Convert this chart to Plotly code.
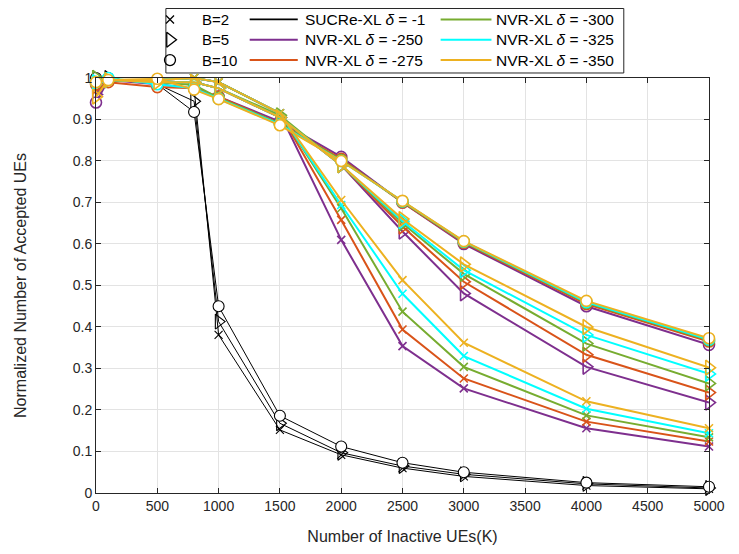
import plotly.graph_objects as go

# ---------------- data ----------------
x_users = [0, 100, 500, 800, 1000, 1500, 2000, 2500, 3000, 4000, 5000]

methods = ["SUCRe-XL", "NVR-XL -250", "NVR-XL -275", "NVR-XL -300", "NVR-XL -325", "NVR-XL -350"]
legend_labels = ["SUCRe-XL <i>δ</i> = -1", "NVR-XL <i>δ</i> = -250", "NVR-XL <i>δ</i> = -275",
                 "NVR-XL <i>δ</i> = -300", "NVR-XL <i>δ</i> = -325", "NVR-XL <i>δ</i> = -350"]
b_labels = ["B=2", "B=5", "B=10"]

# B = 2
sucre_b2 = [1.0, 1.0, 0.985, 0.975, 0.381, 0.152, 0.092, 0.060, 0.040, 0.018, 0.010]
nvr250_b2 = [0.99, 0.995, 0.995, 1.0, 0.99, 0.915, 0.610, 0.354, 0.252, 0.156, 0.112]
nvr275_b2 = [0.99, 0.995, 0.995, 1.0, 0.99, 0.915, 0.658, 0.394, 0.276, 0.172, 0.124]
nvr300_b2 = [0.995, 0.995, 0.995, 1.0, 0.99, 0.915, 0.686, 0.437, 0.304, 0.187, 0.134]
nvr325_b2 = [0.99, 0.995, 0.995, 1.0, 0.99, 0.915, 0.694, 0.480, 0.330, 0.203, 0.144]
nvr350_b2 = [0.99, 0.995, 0.995, 1.0, 0.99, 0.915, 0.706, 0.513, 0.362, 0.221, 0.156]

# B = 5
sucre_b5 = [1.0, 1.0, 0.985, 0.944, 0.413, 0.168, 0.097, 0.065, 0.045, 0.022, 0.012]
nvr250_b5 = [0.96, 0.995, 0.99, 0.99, 0.975, 0.905, 0.790, 0.630, 0.481, 0.304, 0.218]
nvr275_b5 = [0.98, 0.995, 0.99, 0.99, 0.975, 0.905, 0.790, 0.642, 0.509, 0.333, 0.242]
nvr300_b5 = [1.0, 0.995, 0.99, 0.99, 0.975, 0.910, 0.790, 0.650, 0.528, 0.360, 0.264]
nvr325_b5 = [0.99, 0.995, 0.99, 0.99, 0.975, 0.905, 0.790, 0.655, 0.537, 0.381, 0.287]
nvr350_b5 = [0.955, 0.995, 0.99, 0.99, 0.975, 0.905, 0.790, 0.660, 0.551, 0.400, 0.302]

# B = 10
sucre_b10 = [1.0, 1.0, 0.985, 0.918, 0.450, 0.186, 0.112, 0.073, 0.050, 0.025, 0.015]
nvr250_b10 = [0.941, 0.995, 0.985, 0.975, 0.955, 0.895, 0.810, 0.700, 0.600, 0.450, 0.357]
nvr275_b10 = [0.985, 0.990, 0.978, 0.975, 0.955, 0.890, 0.805, 0.700, 0.603, 0.455, 0.365]
nvr300_b10 = [0.99, 0.995, 0.990, 0.983, 0.952, 0.890, 0.802, 0.702, 0.605, 0.458, 0.368]
nvr325_b10 = [0.99, 1.0, 0.985, 0.975, 0.950, 0.888, 0.800, 0.703, 0.606, 0.460, 0.370]
nvr350_b10 = [0.99, 0.995, 0.998, 0.972, 0.949, 0.886, 0.800, 0.704, 0.607, 0.463, 0.373]

x_ticks = [0, 500, 1000, 1500, 2000, 2500, 3000, 3500, 4000, 4500, 5000]
y_ticks = [0, 0.1, 0.2, 0.3, 0.4, 0.5, 0.6, 0.7, 0.8, 0.9, 1]
y_ticklabels = ["0", "0.1", "0.2", "0.3", "0.4", "0.5", "0.6", "0.7", "0.8", "0.9", "1"]

# ---------------- styles ----------------
colors = ["#000000", "#7E2F8E", "#D95319", "#77AC30", "#00FFFF", "#EDB120"]
widths = [1.0, 2.0, 2.0, 2.0, 2.0, 2.0]
series = {
    "B=2": [sucre_b2, nvr250_b2, nvr275_b2, nvr300_b2, nvr325_b2, nvr350_b2],
    "B=5": [sucre_b5, nvr250_b5, nvr275_b5, nvr300_b5, nvr325_b5, nvr350_b5],
    "B=10": [sucre_b10, nvr250_b10, nvr275_b10, nvr300_b10, nvr325_b10, nvr350_b10],
}

fig = go.Figure()
font_family = "Liberation Sans, Arial, sans-serif"

for mi in range(len(methods)):
    for b in b_labels:
        col = colors[mi]
        lw = 1.6 if mi else 1.1
        if b == "B=10":
            marker = dict(symbol="circle", size=11, color="white", line=dict(color=col, width=lw))
        elif b == "B=2":
            marker = dict(symbol="x-thin", size=8, color=col, line=dict(color=col, width=lw))
        else:
            marker = dict(symbol="triangle-right-open", size=13, color=col, line=dict(color=col, width=lw))
        fig.add_trace(go.Scatter(
            x=x_users, y=series[b][mi], mode="lines+markers",
            line=dict(color=col, width=widths[mi]),
            marker=marker, cliponaxis=False, showlegend=False,
            name=f"{methods[mi]} {b}",
        ))

# ---------------- custom legend on an auxiliary axis ----------------
row_y = [0.83, 0.515, 0.20]
leg_marker_syms = [("x-thin", 8), ("triangle-right-open", 13), ("circle-open", 11)]
for i, b in enumerate(b_labels):
    sym, sz = leg_marker_syms[i]
    fig.add_trace(go.Scatter(x=[0.009], y=[row_y[i]], mode="markers", xaxis="x2", yaxis="y2",
                             marker=dict(symbol=sym, size=sz, color="black", line=dict(color="black", width=1.3)),
                             showlegend=False, cliponaxis=False, hoverinfo="skip"))
    fig.add_annotation(x=0.075, y=row_y[i], xref="x2", yref="y2", text=b, showarrow=False,
                       xanchor="left", yanchor="middle",
                       font=dict(family=font_family, size=15, color="#000000"))

line_cols = [(0.183, 0.288, 0.300), (0.600, 0.711, 0.716)]
for mi in range(len(methods)):
    col_i = 0 if mi < 3 else 1
    r = mi % 3
    x0, x1, xt = line_cols[col_i]
    fig.add_trace(go.Scatter(x=[x0, x1], y=[row_y[r], row_y[r]], mode="lines", xaxis="x2", yaxis="y2",
                             line=dict(color=colors[mi], width=2 if mi else 1.8),
                             showlegend=False, cliponaxis=False, hoverinfo="skip"))
    fig.add_annotation(x=xt, y=row_y[r], xref="x2", yref="y2", text=legend_labels[mi], showarrow=False,
                       xanchor="left", yanchor="middle",
                       font=dict(family=font_family, size=15.5, color="#000000"))

# legend frame
fig.add_shape(type="rect", xref="paper", yref="paper",
              x0=0.114, x1=0.861, y0=0.866, y1=0.999,
              line=dict(color="#262626", width=1), fillcolor="white", layer="below")

axis_common = dict(showline=True, linecolor="#262626", linewidth=1, mirror="ticks",
                   ticks="inside", ticklen=5, tickcolor="#262626", automargin=False,
                   showgrid=True, gridcolor="#e3e3e3", gridwidth=1, zeroline=False,
                   tickfont=dict(family=font_family, size=14, color="#262626"))

fig.update_layout(
    width=739, height=554,
    margin=dict(l=88, r=38, t=0, b=69, autoexpand=False),
    paper_bgcolor="white", plot_bgcolor="white",
    showlegend=False,
    xaxis=dict(range=[0, 5000], tickvals=x_ticks, ticktext=[str(v) for v in x_ticks],
               domain=[0, 1],
               title=dict(text="Number of Inactive UEs(K)", standoff=18,
                          font=dict(family=font_family, size=16, color="#262626")),
               **axis_common),
    yaxis=dict(range=[0, 1], tickvals=y_ticks, ticktext=y_ticklabels,
               domain=[0, 0.8557],
               title=dict(text="Normalized Number of Accepted UEs", standoff=42,
                          font=dict(family=font_family, size=16, color="#262626")),
               **axis_common),
    xaxis2=dict(domain=[0.114, 0.861], range=[0, 1], visible=False, anchor="y2"),
    yaxis2=dict(domain=[0.866, 0.999], range=[0, 1], visible=False, anchor="x2"),
)

fig.write_html("out.html")
